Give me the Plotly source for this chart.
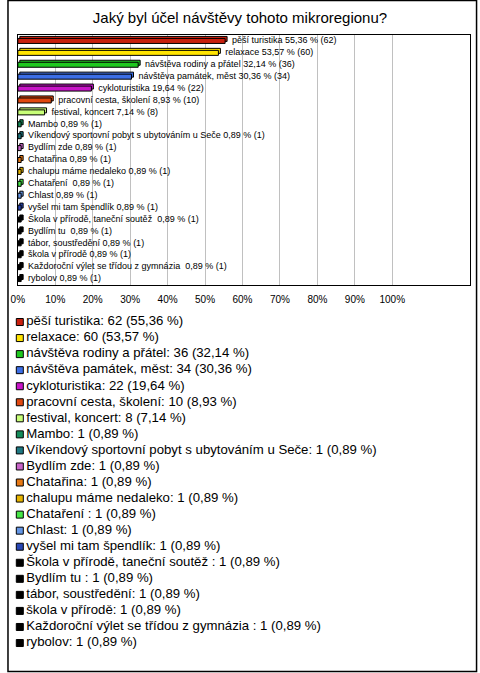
import plotly.graph_objects as go

W, H = 480, 673
FONT = "Liberation Sans, Arial, sans-serif"

# ---------------- data ----------------
title = "Jaký byl účel návštěvy tohoto mikroregionu?"
categories = [
    "pěší turistika", "relaxace", "návštěva rodiny a přátel", "návštěva památek, měst",
    "cykloturistika", "pracovní cesta, školení", "festival, koncert", "Mambo",
    "Víkendový sportovní pobyt s ubytováním u Seče", "Bydlím zde", "Chatařina",
    "chalupu máme nedaleko", "Chataření ", "Chlast", "vyšel mi tam špendlík",
    "Škola v přírodě, taneční soutěž ", "Bydlím tu ", "tábor, soustředění",
    "škola v přírodě", "Každoroční výlet se třídou z gymnázia ", "rybolov",
]
counts = [62, 60, 36, 34, 22, 10, 8, 1, 1, 1, 1, 1, 1, 1, 1, 1, 1, 1, 1, 1, 1]
percents = [55.36, 53.57, 32.14, 30.36, 19.64, 8.93, 7.14] + [0.89] * 14
colors = [
    "#C8200E", "#FFE400", "#1EC81E", "#3C6EE6", "#C814C8", "#E04810", "#C8FF78",
    "#148C5A", "#1E7882", "#C864C8", "#E67814", "#E6B400", "#46E646", "#6496E6",
    "#2846B4", "#000000", "#000000", "#000000", "#000000", "#000000", "#000000",
]
tick_values = [0, 10, 20, 30, 40, 50, 60, 70, 80, 90, 100]
tick_labels = [f"{v}%" for v in tick_values]

def fmt(p):
    return f"{p:.2f}".replace(".", ",")

bar_labels = [f"{c} {fmt(p)} % ({n})" for c, p, n in zip(categories, percents, counts)]
legend_labels = [f"{c}: {n} ({fmt(p)} %)" for c, p, n in zip(categories, percents, counts)]

# ---------------- layout constants ----------------
PX_L, PX_R, PX_T, PX_B = 11, 470, 35, 285
X_MAX = 120.8
px_per_unit = (PX_R - PX_L) / X_MAX
DEPTH = 2 / px_per_unit        # 3D depth of bars, in axis units
GAP = 5 / px_per_unit          # gap between bar and its label
BAR_W = 0.42
DEPTH_Y = 0.17
LEG_T, LEG_ROW = 314, 16.05

n = len(categories)
idx = list(range(n))

fig = go.Figure()

# depth (back) bars for a pseudo-3D look
fig.add_trace(go.Bar(
    x=percents, y=idx, orientation="h", base=DEPTH,
    width=BAR_W, offset=-BAR_W / 2 - DEPTH_Y,
    marker=dict(color=colors, line=dict(color="black", width=1)),
    hoverinfo="skip", showlegend=False,
))
# front bars
fig.add_trace(go.Bar(
    x=percents, y=idx, orientation="h",
    width=BAR_W, offset=-BAR_W / 2,
    marker=dict(color=colors, line=dict(color="black", width=1)),
    showlegend=False,
))
# bar labels
fig.add_trace(go.Scatter(
    x=[p + DEPTH + GAP for p in percents], y=idx, mode="text",
    text=bar_labels, textposition="middle right",
    textfont=dict(family=FONT, size=9, color="black"),
    cliponaxis=False, showlegend=False, hoverinfo="skip",
))

# custom legend (compact rows)
fig.add_trace(go.Scatter(
    x=[13] * n, y=idx, mode="markers", xaxis="x2", yaxis="y2",
    marker=dict(symbol="square", size=7, color=colors, line=dict(color="black", width=1)),
    showlegend=False, hoverinfo="skip",
))
fig.add_trace(go.Scatter(
    x=[19.5] * n, y=idx, mode="text", xaxis="x2", yaxis="y2",
    text=legend_labels, textposition="middle right",
    textfont=dict(family=FONT, size=13.2, color="black"),
    cliponaxis=False, showlegend=False, hoverinfo="skip",
))

fig.update_layout(
    width=W, height=H,
    margin=dict(l=0, r=0, t=0, b=0),
    paper_bgcolor="white", plot_bgcolor="white",
    barmode="overlay",
    font=dict(family=FONT, color="black"),
    title=dict(text=title, x=0.5, xanchor="center", y=1 - 18 / H, yanchor="middle",
               font=dict(family=FONT, size=15, color="black")),
    xaxis=dict(
        domain=[PX_L / W, PX_R / W], range=[0, X_MAX],
        tickvals=tick_values, ticktext=tick_labels,
        tickfont=dict(family=FONT, size=10, color="black"),
        ticklabelstandoff=5,
        showgrid=True, gridcolor="#C0C0C0", gridwidth=1, zeroline=False,
        showline=True, mirror=True, linecolor="black", linewidth=1, ticks="",
        fixedrange=True,
    ),
    yaxis=dict(
        domain=[1 - PX_B / H, 1 - PX_T / H], range=[n - 0.5, -0.5],
        showticklabels=False, showgrid=False, zeroline=False,
        showline=True, mirror=True, linecolor="black", linewidth=1, ticks="",
        fixedrange=True,
    ),
    xaxis2=dict(domain=[0, 1], range=[0, W], visible=False, anchor="y2", fixedrange=True),
    yaxis2=dict(domain=[1 - (LEG_T + n * LEG_ROW) / H, 1 - LEG_T / H],
                range=[n - 0.5, -0.5], visible=False, anchor="x2", fixedrange=True),
    shapes=[dict(type="rect", xref="paper", yref="paper",
                 x0=1 / W, x1=476.5 / W, y0=1 - 671.5 / H, y1=1 - 0.5 / H,
                 line=dict(color="black", width=1.5), fillcolor="rgba(0,0,0,0)")],
    showlegend=False,
)

fig.write_html("out.html", config={"displayModeBar": False},
               post_script="document.body.style.margin='0';")
